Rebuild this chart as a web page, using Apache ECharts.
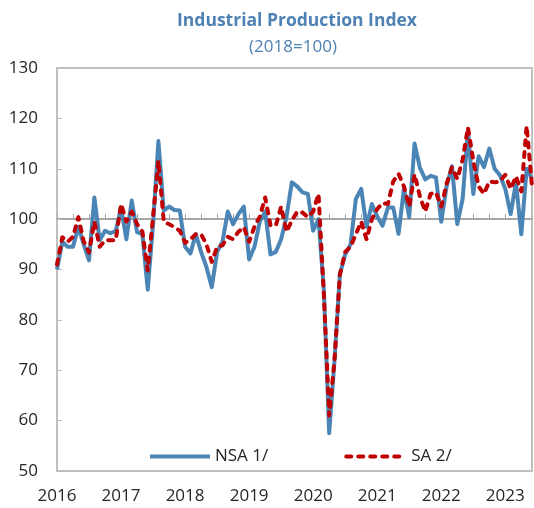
<!DOCTYPE html>
<html>
<head>
<meta charset="utf-8">
<script src="https://cdn.jsdelivr.net/npm/echarts@6/dist/echarts.min.js"></script>
<style>
    html, body { margin: 0; padding: 0; background: #fff; }
    #chart { width: 534px; height: 508px; }
</style>
</head>
<body>
<div id="chart"></div>
<script>
// monthly index, Jan 2016 - Jun 2023
var years = ['2016', '2017', '2018', '2019', '2020', '2021', '2022', '2023'];
var monthCount = 90;

// NSA 1/
var nsa = [
    90, 95.5, 94.5, 94.5, 98.5, 95, 91.8, 104.3, 95.8, 97.7,
    97.2, 97.6, 102.3, 96, 103.7, 97.4, 97, 86, 99, 115.5,
    101.7, 102.5, 101.8, 101.7, 94.5, 93.2, 97, 93.5, 90.5, 86.5,
    93.5, 95.5, 101.5, 99, 101, 102.5, 92, 94.5, 99.5, 101.5,
    93, 93.5, 96, 100.5, 107.3, 106.5, 105.3, 105, 97.7, 100,
    86, 57.5, 72, 89, 93, 95, 104, 106, 98.5, 103,
    100.5, 98.7, 102.3, 102.3, 97.1, 106, 100.4, 115, 110.2, 107.9,
    108.6, 108.3, 99.5, 106.5, 110.5, 99, 104, 117.5, 105, 112.5,
    110.3, 114, 110, 108.7, 106, 101, 107.3, 97, 110, 108
];

// SA 2/
var sa = [
    91, 96.4, 95.5, 96.5, 100.4, 95.6, 93.4, 99.5, 94.5, 95.8,
    95.8, 95.8, 103, 99.5, 101.5, 99, 97.5, 89.8, 100.5, 111.6,
    99.5, 99, 98.4, 97.7, 95.3, 96, 97, 97, 95, 91.5,
    94.5, 94.8, 96.5, 96, 97.5, 98.4, 95.5, 98.5, 100.5, 104.3,
    98.8, 98.7, 102.5, 97.5, 99.7, 101.5, 101.3, 100.4, 101.5, 105,
    85, 61, 72, 89, 93.5, 94.5, 97, 99.5, 96, 100,
    102, 103.2, 103, 107.5, 109, 106.5, 102.5, 108.9, 104.5, 101.5,
    105, 105.3, 102.5, 107, 110.3, 108, 111.8, 118.2, 111.6, 106.5,
    105, 107.5, 107.3, 107.5, 108.8, 106, 108.5, 105.5, 118.5, 106.5
];

var months = [];
for (var i = 0; i < monthCount; i++) {
    var m = i % 12 + 1;
    months.push(years[Math.floor(i / 12)] + '-' + (m < 10 ? '0' + m : m));
}

var font = '"Open Sans", "Noto Sans", sans-serif';
var frameColor = '#bfbfbf';
var blue = '#4a85b5';
var red = '#c00000';
var redDash = [5, 7];

var myChart = echarts.init(document.getElementById('chart'), null, {renderer: 'canvas'});

var option = {
    animation: false,
    backgroundColor: '#fff',
    title: [{
        text: 'Industrial Production Index',
        left: 292,
        top: 7,
        textAlign: 'center',
        textStyle: {fontFamily: font, fontSize: 17.5, fontWeight: 'bold', color: '#4e81b4'}
    }, {
        text: '(2018=100)',
        left: 288,
        top: 34,
        textAlign: 'center',
        textStyle: {fontFamily: font, fontSize: 17, fontWeight: 'normal', color: '#4e81b4'}
    }],
    legend: {
        left: 143,
        top: 443,
        itemWidth: 60,
        itemHeight: 14,
        itemGap: 76,
        textStyle: {fontFamily: font, fontSize: 17, color: '#262626'},
        data: [{
            name: 'NSA 1/',
            itemStyle: {opacity: 0},
            lineStyle: {color: blue, width: 4}
        }, {
            name: 'SA 2/',
            itemStyle: {opacity: 0},
            lineStyle: {color: red, width: 4, type: redDash, cap: 'round'}
        }]
    },
    grid: [{
        left: 57, right: 2, top: 68, bottom: 37,
        show: true,
        borderColor: frameColor,
        borderWidth: 2
    }, {
        // top part only, so its bottom axis sits on the 100 line
        left: 57, right: 2, top: 68, bottom: 289
    }],
    xAxis: [{
        type: 'category',
        gridIndex: 0,
        boundaryGap: false,
        data: months,
        axisLine: {show: false},
        axisTick: {show: false},
        axisLabel: {
            interval: function (index) { return index % 12 === 0; },
            formatter: function (v) { return v.slice(0, 4); },
            fontFamily: font,
            fontSize: 17,
            color: '#262626',
            margin: 17
        }
    }, {
        type: 'category',
        gridIndex: 1,
        boundaryGap: false,
        data: months,
        axisLine: {show: true, lineStyle: {color: '#a6a6a6', width: 2}},
        axisTick: {show: true, inside: true, interval: 2, length: 5, lineStyle: {color: '#a6a6a6', width: 1}},
        axisLabel: {show: false}
    }],
    yAxis: [{
        type: 'value',
        gridIndex: 0,
        min: 50,
        max: 130,
        interval: 10,
        axisLine: {show: false},
        axisTick: {show: true, inside: true, length: 5, lineStyle: {color: frameColor, width: 1}},
        splitLine: {show: false},
        axisLabel: {fontFamily: font, fontSize: 17, color: '#262626', margin: 19}
    }, {
        type: 'value',
        gridIndex: 1,
        min: 100,
        max: 130,
        show: false
    }],
    series: [{
        name: 'NSA 1/',
        type: 'line',
        xAxisIndex: 0,
        yAxisIndex: 0,
        symbol: 'none',
        z: 3,
        lineStyle: {color: blue, width: 4, join: 'round'},
        itemStyle: {color: blue},
        data: nsa
    }, {
        name: 'SA 2/',
        type: 'line',
        xAxisIndex: 0,
        yAxisIndex: 0,
        symbol: 'none',
        z: 4,
        lineStyle: {color: red, width: 4, type: redDash, cap: 'round', join: 'round'},
        itemStyle: {color: red},
        data: sa
    }]
};

myChart.setOption(option);
</script>
</body>
</html>
